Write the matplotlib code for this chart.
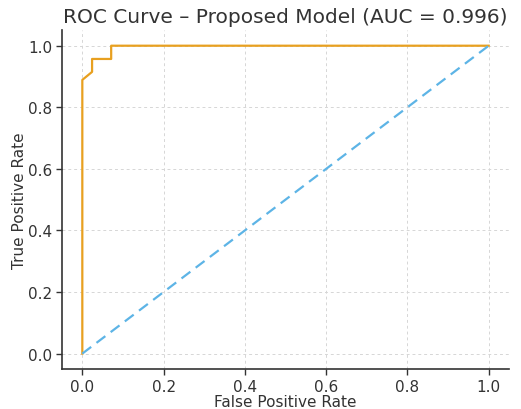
import matplotlib
matplotlib.use("Agg")
import matplotlib.pyplot as plt

fpr = [0.0, 0.0, 0.024, 0.024, 0.071, 0.071, 1.0]
tpr = [0.0, 0.889, 0.915, 0.957, 0.957, 1.0, 1.0]
diag = [0.0, 1.0]
title = "ROC Curve – Proposed Model (AUC = 0.996)"

fig = plt.figure(figsize=(5.21, 4.10), dpi=100)
ax = fig.add_axes([0.119, 0.0976, 0.858, 0.826])
ax.plot(fpr, tpr, color="#E8A020", lw=1.6)
ax.plot(diag, diag, color="#5DB4E6", lw=1.6, ls=(0, (5, 3)))
ax.set_xlim(-0.05, 1.05)
ax.set_ylim(-0.05, 1.05)
ax.set_xticks([0, 0.2, 0.4, 0.6, 0.8, 1.0])
ax.set_yticks([0, 0.2, 0.4, 0.6, 0.8, 1.0])
ax.grid(True, ls=(0, (3, 3)), color="#d6d6d6", lw=0.7)
for s in ["top", "right"]:
    ax.spines[s].set_visible(False)
for s in ["left", "bottom"]:
    ax.spines[s].set_color("#333333")
    ax.spines[s].set_linewidth(1.2)
ax.tick_params(colors="#333333", labelsize=11, length=4, width=1, pad=3)
ax.set_xlabel("False Positive Rate", fontsize=11, color="#333333", labelpad=0)
ax.set_ylabel("True Positive Rate", fontsize=11, color="#333333", labelpad=1)
ax.set_title(title, fontsize=14.5, color="#333333")
fig.savefig("out.png", dpi=100)
